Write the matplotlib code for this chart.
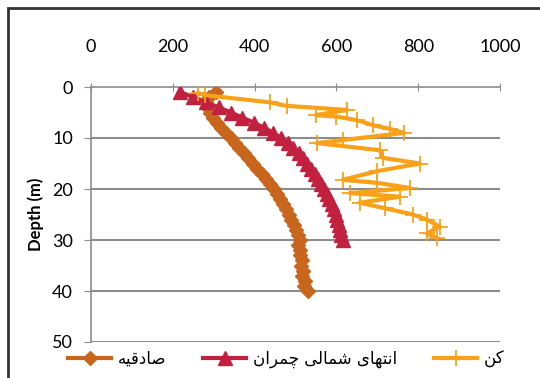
import matplotlib
matplotlib.use("Agg")
import matplotlib.pyplot as plt
from matplotlib.patches import Rectangle

# صادقیه  (diamonds)
sadeghieh_depth = [1, 2, 3, 4, 5, 6, 7, 8, 9, 10, 11, 12, 13, 14, 15, 16, 17, 18, 19, 20,
                   21, 22, 23, 24, 25, 26, 27, 28, 29, 30, 31, 32, 33, 34, 35, 36, 37, 38, 39, 40]
sadeghieh_vs = [305, 288, 280, 283, 290, 298, 307, 318, 330, 342, 352, 362, 373, 384, 395, 406, 417, 428, 438, 447,
                455, 463, 470, 477, 484, 490, 496, 500, 505, 510, 507, 512, 510, 515, 513, 518, 516, 524, 521, 530]

# انتهای شمالی چمران  (triangles)
chamran_depth = [1, 2, 3, 4, 5, 6, 7, 8, 9, 10, 11, 12, 13, 14, 15, 16, 17, 18, 19, 20,
                 21, 22, 23, 24, 25, 26, 27, 28, 29, 30]
chamran_vs = [218, 250, 282, 312, 342, 370, 398, 423, 446, 465, 481, 495, 508, 519, 529, 538, 547, 555, 563, 570,
              577, 583, 589, 594, 598, 602, 606, 609, 612, 615]

# کن  (plus)
kan_depth = [1.2, 1.6, 3.0, 3.7, 4.5, 5.5, 5.8, 6.5, 7.5, 8.2, 9.0, 10.4, 11.0, 12.4, 13.9, 15.0,
             16.5, 18.2, 18.8, 19.8, 20.8, 21.5, 22.7, 23.8, 25.0, 26.0, 27.4, 28.7, 29.6]
kan_vs = [262, 278, 437, 478, 626, 550, 600, 650, 690, 730, 765, 616, 552, 706, 714, 804,
          700, 616, 700, 780, 633, 755, 657, 720, 787, 821, 853, 821, 846]

x_ticks = [0, 200, 400, 600, 800, 1000]
y_ticks = [0, 10, 20, 30, 40, 50]


def rtl(s):
    # text already in Arabic presentation forms, logical order -> visual order
    return s[::-1]


lbl_sadeghieh = rtl("\uFEBB\uFE8E\uFEA9\uFED7\uFBFF\uFEEA")
lbl_chamran = rtl("\uFE8D\uFEE7\uFE98\uFEEC\uFE8E\uFBFC \uFEB7\uFEE4\uFE8E\uFEDF\uFBFD "
                  "\uFB7C\uFEE4\uFEAE\uFE8D\uFEE5")
lbl_kan = rtl("\uFB90\uFEE6")

c_brown = "#c8661e"
c_red = "#c2203f"
c_orange = "#f9a11b"
c_axis = "#8c8c8c"

plt.rcParams["font.family"] = ["Lato", "DejaVu Sans"]

fig = plt.figure(figsize=(5.4, 3.78), dpi=100)
ax = fig.add_axes([91 / 540, 1 - 342 / 378, 409 / 540, 255 / 378])

# outer frame of the picture
fig.patches.append(Rectangle((8 / 540, -0.05), 1.2, 1 - 8 / 378 + 0.05, transform=fig.transFigure,
                             fill=False, edgecolor="#333333", linewidth=2))

ax.plot(sadeghieh_vs, sadeghieh_depth, color=c_brown, lw=3, marker="D", ms=7,
        mec=c_brown, label=lbl_sadeghieh, zorder=3)
ax.plot(chamran_vs, chamran_depth, color=c_red, lw=3, marker="^", ms=9.5,
        mec=c_red, label=lbl_chamran, zorder=4)
ax.plot(kan_vs, kan_depth, color=c_orange, lw=3, marker="+", ms=12, mew=1.3,
        label=lbl_kan, zorder=5)

ax.set_xlim(0, 1000)
ax.set_ylim(50, 0)
ax.xaxis.tick_top()
ax.set_xticks(x_ticks)
ax.set_yticks(y_ticks)
ax.tick_params(axis="x", direction="inout", length=6, color=c_axis, pad=20, labelsize=13)
ax.tick_params(axis="y", direction="out", length=5, color=c_axis, pad=8, labelsize=13)

for y in y_ticks[1:]:
    ax.axhline(y, color=c_axis, lw=1.5, zorder=1)

for side in ["right", "bottom"]:
    ax.spines[side].set_visible(False)
for side in ["top", "left"]:
    ax.spines[side].set_color(c_axis)
    ax.spines[side].set_linewidth(1.2)

ax.set_ylabel("Depth (m)", fontsize=12, fontweight="bold", labelpad=6)

fig.legend(loc="center", bbox_to_anchor=(0.53, 0.05), ncol=3, frameon=False,
           prop={"family": "DejaVu Sans", "size": 12}, handlelength=2.6,
           columnspacing=2.2, handletextpad=0.4)

fig.savefig("out.png", dpi=100)
